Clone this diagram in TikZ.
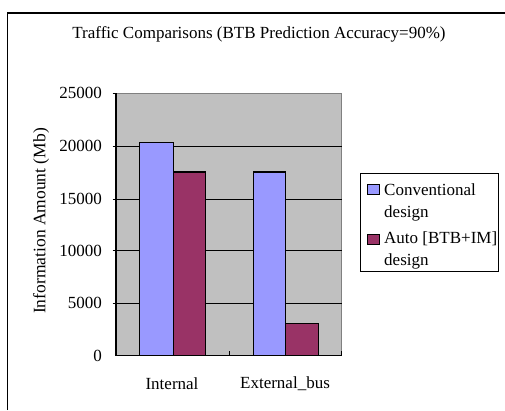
\documentclass[tikz,border=0pt]{standalone}
\usepackage{fontspec}
\setmainfont{Liberation Serif}
\definecolor{barblue}{HTML}{9999FF}
\definecolor{barred}{HTML}{993366}
\definecolor{plotbg}{HTML}{C0C0C0}
\definecolor{plotedge}{HTML}{808080}
\begin{document}
\begin{tikzpicture}[x=1pt,y=-1pt,
  lbl/.style={font=\fontsize{17}{21.5}\selectfont, inner sep=0pt},
  bar/.style={draw=black, line width=1.3pt},
  grid/.style={draw=black, line width=0.9pt}]
\useasboundingbox (0,0) rectangle (505,410);
% outer frame
\draw[line width=1.3pt] (7.5,410) -- (7.5,13) -- (505,13);
% title
\node[lbl] (title) at (259,34) {Traffic Comparisons (BTB Prediction Accuracy=90\%)};
% plot area
\fill[plotbg] (116,93.3) rectangle (341.7,355.7);
\draw[plotedge, line width=1pt] (116,93.3) -- (341.7,93.3) -- (341.7,355.7);
\foreach \v/\y in {5000/303.3,10000/250.8,15000/199.3,20000/146} {
  \draw[grid] (112.5,\y) -- (341.7,\y);
  \node[lbl, anchor=east] (t\v) at (102,\y) {\v};
}
\node[lbl, anchor=east] (t25000) at (102,93.3) {25000};
\node[lbl, anchor=east] (t0) at (102,355.7) {0};
\draw[grid] (112.5,93.3) -- (116,93.3);
% bars
\draw[bar, fill=barblue] (139.3,355.7) rectangle (173.3,142.7);
\draw[bar, fill=barred] (173.3,355.7) rectangle (205.7,172);
\draw[bar, fill=barblue] (253.3,355.7) rectangle (285.3,172);
\draw[bar, fill=barred] (285.3,355.7) rectangle (318.3,323.3);
% axes
\draw[black, line width=1.3pt] (116,93.3) -- (116,355.7) -- (341.7,355.7);
\draw[black, line width=0.9pt] (229.3,355.7) -- (229.3,350.5);
\draw[black, line width=0.9pt] (341.7,355.7) -- (341.7,350.5);
% category labels
\node[lbl] (cat1) at (172,384) {Internal};
\node[lbl] (cat2) at (285,384) {External\_bus};
% y label
\node[lbl, font=\fontsize{17.5}{21}\selectfont, rotate=90] (ylab) at (41,221) {Information Amount (Mb)};
% legend
\draw[line width=0.9pt] (360.7,173.3) rectangle (498.3,271.7);
\draw[line width=0.9pt, fill=barblue] (367.5,184.5) rectangle (379.5,194.5);
\draw[line width=0.9pt, fill=barred] (367.5,234.5) rectangle (379.5,244.5);
\node[lbl, anchor=west, align=left] (leg1) at (384,202.5) {Conventional\\design};
\node[lbl, anchor=west, align=left] (leg2) at (384,250.5) {Auto [BTB+IM]\\design};
\end{tikzpicture}
\end{document}
